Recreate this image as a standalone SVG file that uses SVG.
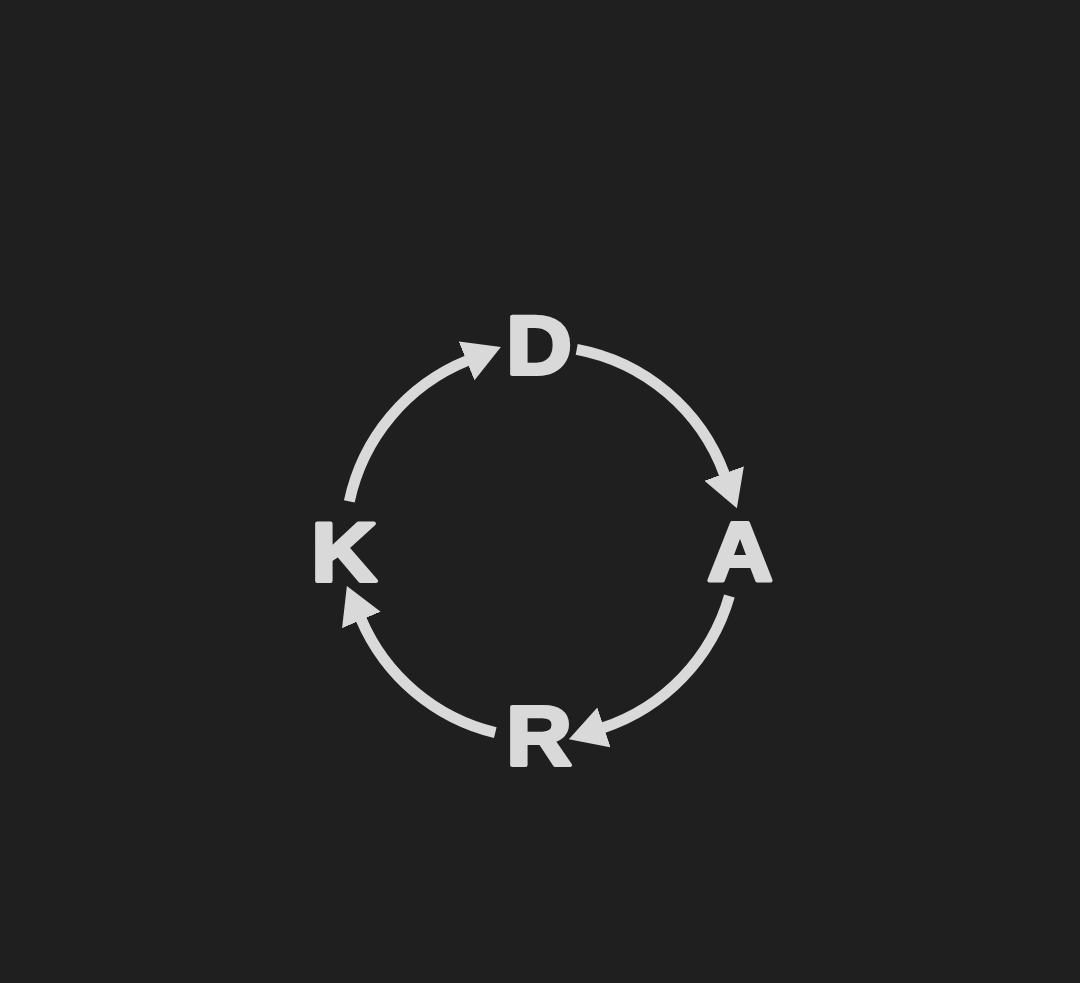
<svg xmlns="http://www.w3.org/2000/svg" width="1080" height="983" viewBox="0 0 1080 983">
  <style>
    .lbl { font-family: "Liberation Sans", Arial, sans-serif; font-weight: bold; font-size: 84px; fill: #d9d9d9; stroke: #d9d9d9; stroke-width: 4; stroke-linejoin: round; text-anchor: middle; }
    .arc { fill: none; stroke: #d9d9d9; stroke-width: 11; }
  </style>
  <defs>
    <marker id="head" markerUnits="userSpaceOnUse" markerWidth="37" markerHeight="42" viewBox="0 0 37 42" refX="1" refY="21" orient="auto">
      <path d="M0,0 L37,21 L0,42 z" fill="#d9d9d9"/>
    </marker>
  </defs>
  <rect width="1080" height="983" fill="#1f1f1f"/>
  <g id="connectors">
    <path class="arc" d="M349.3,501.3 A196,196 0 0 1 467.5,360.5" marker-end="url(#head)"/>
    <path class="arc" d="M576.7,349.3 A196,196 0 0 1 724.5,474.5" marker-end="url(#head)"/>
    <path class="arc" d="M729.4,596.0 A196,196 0 0 1 603.0,727.8" marker-end="url(#head)"/>
    <path class="arc" d="M495.3,732.6 A196,196 0 0 1 361.0,619.0" marker-end="url(#head)"/>
  </g>
  <g id="node-D"><text class="lbl" transform="translate(539,374) scale(1.08,1)">D</text></g>
  <g id="node-A"><text class="lbl" transform="translate(740,581) scale(1.08,1)">A</text></g>
  <g id="node-R"><text class="lbl" transform="translate(539,765) scale(1.08,1)">R</text></g>
  <g id="node-K"><text class="lbl" transform="translate(344,581) scale(1.08,1)">K</text></g>
</svg>
